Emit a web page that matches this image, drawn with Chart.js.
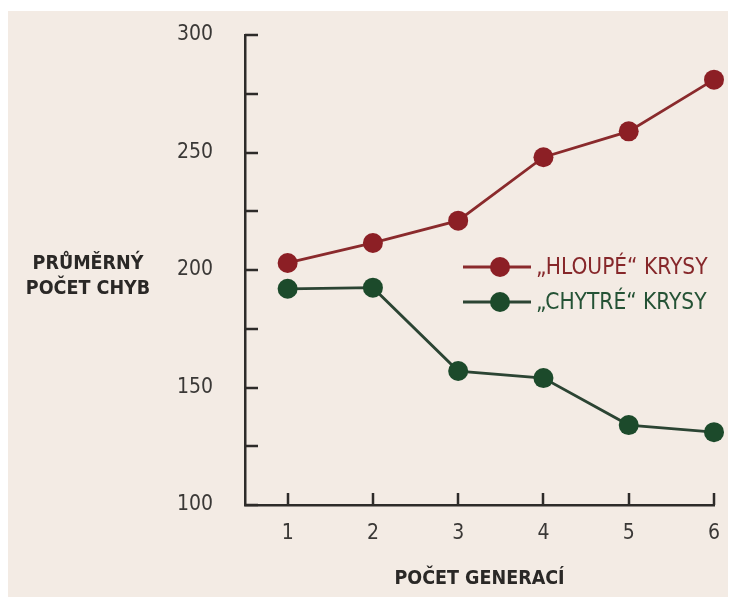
<!DOCTYPE html>
<html>
<head>
<meta charset="utf-8">
<script src="https://cdn.jsdelivr.net/npm/chart.js@4/dist/chart.umd.min.js"></script>
<style>
html, body { margin: 0; padding: 0; background: #ffffff; }
#wrap { width: 737px; height: 600px; position: relative; }
</style>
</head>
<body>
<div id="wrap"><canvas id="chart" width="737" height="600"></canvas></div>
<script>
// data
const generations = [1, 2, 3, 4, 5, 6];
const dumbRats = [203, 211.5, 221, 248, 259, 281];
const smartRats = [192, 192.5, 157, 154, 134, 131];
const seriesNames = ['„HLOUPÉ“ KRYSY', '„CHYTRÉ“ KRYSY'];
const yTitleLines = ['PRŮMĚRNÝ', 'POČET CHYB'];
const xTitle = 'POČET GENERACÍ';

const FONT = "'Liberation Sans Narrow', 'DejaVu Sans Condensed', sans-serif";
const colors = {
    panel: '#f3ebe4',
    axis: '#2d2b29',
    text: '#3a3836',
    title: '#2a2826',
    red: '#8c1f25',
    redLine: '#8a2a2c',
    green: '#1c4a2b',
    greenLine: '#2b4433'
};

// beige panel behind the chart
const panelPlugin = {
    id: 'panel',
    beforeDraw(chart) {
        const ctx = chart.ctx;
        ctx.save();
        ctx.fillStyle = '#ffffff';
        ctx.fillRect(0, 0, chart.width, chart.height);
        ctx.fillStyle = colors.panel;
        ctx.fillRect(8, 11, 720, 586);
        ctx.restore();
    }
};

// tick marks pointing into the plot area
const insideTicksPlugin = {
    id: 'insideTicks',
    afterDraw(chart) {
        const ctx = chart.ctx;
        const x = chart.scales.x, y = chart.scales.y;
        ctx.save();
        ctx.strokeStyle = colors.axis;
        ctx.lineWidth = 2.5;
        ctx.beginPath();
        y.ticks.forEach(t => {
            const py = Math.round(y.getPixelForValue(t.value));
            ctx.moveTo(y.right, py);
            ctx.lineTo(y.right + 13, py);
        });
        x.ticks.forEach(t => {
            const px = Math.round(x.getPixelForValue(t.value));
            ctx.moveTo(px, x.top);
            ctx.lineTo(px, x.top - 12);
        });
        ctx.stroke();
        ctx.restore();
    }
};

// horizontal y axis title on the left
const yTitlePlugin = {
    id: 'yTitle',
    afterDraw(chart) {
        const ctx = chart.ctx;
        ctx.save();
        ctx.fillStyle = colors.title;
        ctx.font = "bold 19.5px " + FONT;
        ctx.textAlign = 'center';
        ctx.textBaseline = 'middle';
        ctx.fillText(yTitleLines[0], 88, 264);
        ctx.fillText(yTitleLines[1], 88, 289);
        ctx.restore();
    }
};

// legend inside the plot, drawn from the dataset styles
const legendPlugin = {
    id: 'customLegend',
    afterDraw(chart) {
        const ctx = chart.ctx;
        const rows = [267, 302];
        ctx.save();
        chart.data.datasets.forEach((ds, i) => {
            const yy = rows[i];
            ctx.strokeStyle = ds.borderColor;
            ctx.lineWidth = ds.borderWidth;
            ctx.beginPath();
            ctx.moveTo(463, yy);
            ctx.lineTo(531, yy);
            ctx.stroke();
            ctx.fillStyle = ds.pointBackgroundColor;
            ctx.beginPath();
            ctx.arc(500, yy, ds.pointRadius, 0, Math.PI * 2);
            ctx.fill();
            ctx.fillStyle = ds.legendTextColor;
            ctx.font = "22.5px " + FONT;
            ctx.textAlign = 'left';
            ctx.textBaseline = 'middle';
            ctx.fillText(ds.label, 536, yy + 1);
        });
        ctx.restore();
    }
};

const ctx = document.getElementById('chart');
const chart = new Chart(ctx, {
    type: 'line',
    data: {
        datasets: [
            {
                label: seriesNames[0],
                data: generations.map((g, i) => ({ x: g, y: dumbRats[i] })),
                borderColor: colors.redLine,
                borderWidth: 2.8,
                pointBackgroundColor: colors.red,
                pointBorderWidth: 0,
                pointRadius: 10,
                legendTextColor: '#86272a',
                tension: 0,
                clip: false
            },
            {
                label: seriesNames[1],
                data: generations.map((g, i) => ({ x: g, y: smartRats[i] })),
                borderColor: colors.greenLine,
                borderWidth: 2.8,
                pointBackgroundColor: colors.green,
                pointBorderWidth: 0,
                pointRadius: 10,
                legendTextColor: '#245235',
                tension: 0,
                clip: false
            }
        ]
    },
    options: {
        responsive: false,
        devicePixelRatio: 1,
        animation: false,
        layout: { padding: { left: 0, right: 23, top: 35, bottom: 0 } },
        plugins: {
            legend: { display: false },
            title: { display: false },
            tooltip: { enabled: false }
        },
        scales: {
            x: {
                type: 'linear',
                min: 0.5,
                max: 6,
                afterBuildTicks: scale => { scale.ticks = generations.map(v => ({ value: v })); },
                afterFit: scale => {
                    scale.height = 95;
                    scale.paddingLeft = 0;
                    scale.paddingRight = 0;
                },
                grid: { display: false, drawTicks: false },
                border: { display: true, color: colors.axis, width: 2.5 },
                ticks: {
                    padding: 16,
                    color: colors.text,
                    font: { family: FONT, size: 21 }
                },
                title: {
                    display: true,
                    text: xTitle,
                    color: colors.title,
                    font: { family: FONT, size: 19.5, weight: 'bold' },
                    padding: { top: 0, bottom: 9 }
                }
            },
            y: {
                min: 100,
                max: 300,
                afterFit: scale => {
                    scale.width = 245;
                    scale.paddingTop = 0;
                    scale.paddingBottom = 0;
                },
                grid: { display: false, drawTicks: false },
                border: { display: true, color: colors.axis, width: 2.5 },
                ticks: {
                    stepSize: 25,
                    padding: 32,
                    color: colors.text,
                    font: { family: FONT, size: 21 },
                    callback: v => (v % 50 === 0 ? v : '')
                }
            }
        }
    },
    plugins: [panelPlugin, insideTicksPlugin, yTitlePlugin, legendPlugin]
});
</script>
</body>
</html>
